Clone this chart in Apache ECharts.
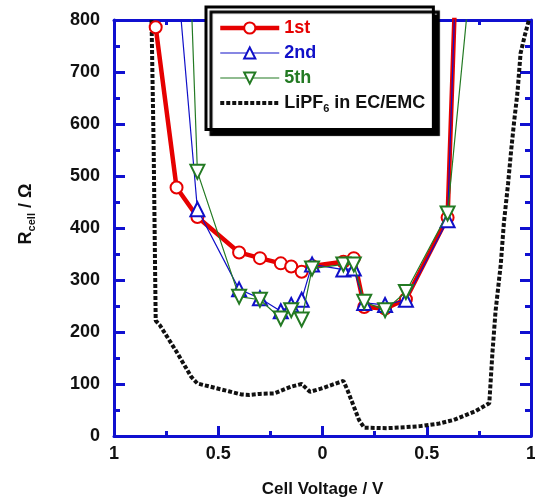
<!DOCTYPE html>
<html>
<head>
<meta charset="utf-8">
<script src="https://cdn.jsdelivr.net/npm/echarts@6/dist/echarts.min.js"></script>
<style>
  html, body { margin: 0; padding: 0; background: #fff; }
  #chart { width: 535px; height: 498px; }
</style>
</head>
<body>
<div id="chart"></div>
<script>
// cell voltage (negative = discharge side, shown as |V|) and R_cell in ohm
const firstV = [-0.8, -0.7, -0.6, -0.4, -0.3, -0.2, -0.15, -0.1, -0.05, 0.1, 0.15, 0.2, 0.3, 0.4, 0.6, 0.65];
const firstR = [786, 478, 421, 353, 342, 332, 326, 316, 327, 335, 342, 248, 245, 263, 420, 1010];

const secondV = [-0.7, -0.6, -0.4, -0.3, -0.2, -0.15, -0.1, -0.05, 0.1, 0.15, 0.2, 0.3, 0.4, 0.6, 0.65];
const secondR = [903, 436, 282, 265, 240, 252, 262, 330, 320, 322, 256, 252, 262, 415, 1015];

const fifthV = [-0.65, -0.6, -0.4, -0.3, -0.2, -0.15, -0.1, -0.05, 0.1, 0.15, 0.2, 0.3, 0.4, 0.6, 0.75];
const fifthR = [1070, 508, 268, 262, 226, 242, 224, 322, 330, 330, 258, 242, 277, 428, 1048];

const lipfV = [-0.82, -0.81, -0.8, -0.78, -0.7, -0.63, -0.6, -0.54, -0.45, -0.39, -0.35, -0.3, -0.23, -0.15, -0.1, -0.06, 0, 0.1, 0.12, 0.175, 0.2, 0.31, 0.4, 0.47, 0.56, 0.63, 0.73, 0.8, 0.815, 0.83, 0.855, 0.87, 0.89, 0.905, 0.92, 0.935, 0.95, 0.97, 0.99];
const lipfR = [800, 560, 222, 213, 162, 114, 101, 95, 86, 80, 79, 81, 82, 95, 100, 85, 92, 106, 88, 31, 16, 15, 17, 19, 24, 31, 47, 63, 160, 240, 330, 410, 485, 550, 608, 660, 736, 770, 800];

const xTicks = { min: -1, max: 1, step: 0.5 };
const yTicks = { min: 0, max: 800, step: 100 };

const seriesNames = ['1st', '2nd', '5th', 'LiPF{sub|6} in EC/EMC'];

const pairs = (xs, ys) => xs.map((x, i) => [x, ys[i]]);

const BLUE_AXIS = '#1010d0';
const RED = '#e60000';
const BLUE = '#1010c8';
const GREEN = '#237a23';
const FONT = '"Liberation Sans", Arial, sans-serif';
const DOTS = [4, 2];

const chart = echarts.init(document.getElementById('chart'), null, { renderer: 'canvas' });

// 坐标轴 (四边都画，刻度朝内)
const makeX = (pos, show) => ({
  type: 'value',
  position: pos,
  min: xTicks.min,
  max: xTicks.max,
  interval: xTicks.step,
  axisLine: { onZero: false, lineStyle: { color: BLUE_AXIS, width: 3 } },
  axisTick: { inside: true, length: 10, lineStyle: { color: BLUE_AXIS, width: 3 } },
  minorTick: { show: true, splitNumber: 2, length: 5, lineStyle: { color: BLUE_AXIS, width: 3 } },
  splitLine: { show: false },
  axisLabel: {
    show: show,
    margin: 9,
    color: '#111',
    fontSize: 18,
    fontWeight: 'bold',
    fontFamily: FONT,
    formatter: (v) => String(Math.abs(v))
  },
  name: show ? 'Cell Voltage / V' : '',
  nameLocation: 'middle',
  nameGap: 45,
  nameTextStyle: { color: '#111', fontSize: 17, fontWeight: 'bold', fontFamily: FONT }
});

const makeY = (pos, show) => ({
  type: 'value',
  position: pos,
  min: yTicks.min,
  max: yTicks.max,
  interval: yTicks.step,
  axisLine: { onZero: false, lineStyle: { color: BLUE_AXIS, width: 3 } },
  axisTick: { inside: true, length: 11, lineStyle: { color: BLUE_AXIS, width: 3 } },
  minorTick: { show: true, splitNumber: 2, length: 6, lineStyle: { color: BLUE_AXIS, width: 3 } },
  splitLine: { show: false },
  axisLabel: {
    show: show,
    margin: 14,
    color: '#111',
    fontSize: 18,
    fontWeight: 'bold',
    fontFamily: FONT
  },
  name: show ? 'R{sub|cell} / Ω' : '',
  nameLocation: 'middle',
  nameGap: 77,
  nameTextStyle: {
    color: '#111', fontSize: 18, fontWeight: 'bold', fontFamily: FONT,
    padding: [0, 0, 0, 28],
    rich: { sub: { fontSize: 11, fontWeight: 'bold', fontFamily: FONT, color: '#111', padding: [10, 0, 0, 0] } }
  }
});

const option = {
  animation: false,
  backgroundColor: '#fff',
  grid: { left: 114, right: 4, top: 20, bottom: 62, outerBoundsMode: 'none' },
  xAxis: [makeX('bottom', true), makeX('top', false)],
  yAxis: [makeY('left', true), makeY('right', false)],
  legend: {
    orient: 'vertical',
    left: 206,
    top: 7,
    padding: [12, 8, 15, 12],
    itemWidth: 59,
    itemHeight: 14,
    itemGap: 7,
    backgroundColor: '#fff',
    borderColor: '#000',
    borderWidth: 3,
    borderRadius: 0,
    shadowColor: '#000',
    shadowBlur: 1,
    shadowOffsetX: 5,
    shadowOffsetY: 5,
    data: [
      { name: seriesNames[0], textStyle: { color: RED }, lineStyle: { color: RED, width: 4.5 } },
      { name: seriesNames[1], textStyle: { color: BLUE }, lineStyle: { color: BLUE, width: 1.2 } },
      { name: seriesNames[2], textStyle: { color: GREEN }, lineStyle: { color: GREEN, width: 1.2 } },
      { name: seriesNames[3], textStyle: { color: '#111' }, lineStyle: { color: '#111', width: 4, type: DOTS }, itemStyle: { opacity: 0 } }
    ],
    textStyle: {
      fontSize: 18,
      fontWeight: 'bold',
      fontFamily: FONT,
      rich: { sub: { fontSize: 11, fontWeight: 'bold', fontFamily: FONT, color: '#111', padding: [12, 0, 0, 0] } }
    }
  },
  series: [
    {
      name: seriesNames[0],
      type: 'line',
      data: pairs(firstV, firstR),
      symbol: 'emptyCircle',
      symbolSize: 12,
      lineStyle: { color: RED, width: 4.5 },
      itemStyle: { color: RED, borderWidth: 1.5 },
      z: 3
    },
    {
      name: seriesNames[1],
      type: 'line',
      data: pairs(secondV, secondR),
      symbol: 'emptyTriangle',
      symbolSize: 14,
      lineStyle: { color: BLUE, width: 1.2 },
      itemStyle: { color: BLUE, borderWidth: 1.5 },
      z: 4
    },
    {
      name: seriesNames[2],
      type: 'line',
      data: pairs(fifthV, fifthR),
      symbol: 'emptyTriangle',
      symbolRotate: 180,
      symbolSize: 14,
      lineStyle: { color: GREEN, width: 1.2 },
      itemStyle: { color: GREEN, borderWidth: 1.5 },
      z: 5
    },
    {
      name: seriesNames[3],
      type: 'line',
      data: pairs(lipfV, lipfR),
      symbol: 'none',
      lineStyle: { color: '#111', width: 4, type: DOTS },
      itemStyle: { color: '#111' },
      z: 2
    }
  ]
};

chart.setOption(option);
</script>
</body>
</html>
